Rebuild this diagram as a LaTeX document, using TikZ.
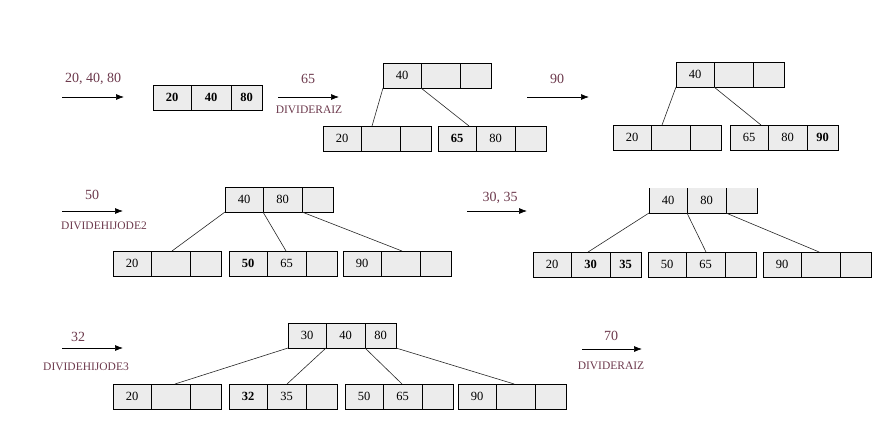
\documentclass[tikz,border=0pt]{standalone}
\usepackage{fontspec}
\setmainfont{Liberation Serif}
\usetikzlibrary{arrows.meta,calc}
\definecolor{lab}{HTML}{6D3A4D}
\definecolor{cellfill}{HTML}{ECECEC}
\tikzset{
  cell/.style={draw=black,fill=cellfill,line width=0.7pt,minimum height=25pt,inner sep=0pt,outer sep=0pt,font=\fontsize{12.5}{14}\selectfont},
  nofr/.style={cell,draw=none},
  toplab/.style={text=lab,font=\fontsize{14}{16}\selectfont,inner sep=0pt},
  botlab/.style={text=lab,font=\fontsize{11.5}{13}\selectfont,inner sep=0pt},
  steparrow/.style={-{Latex[length=8pt,width=6pt]},line width=0.7pt,black},
  link/.style={line width=0.6pt,black!85}
}
\newcommand\tnode[6][cell]{%
  \node[#1,minimum width=38pt,anchor=north west] (#2-1) at (#3) {#4};
  \node[#1,minimum width=39pt,anchor=west] (#2-2) at (#2-1.east) {#5};
  \node[#1,minimum width=31pt,anchor=west] (#2-3) at (#2-2.east) {#6};}
\newcommand\chpt[2]{($(#1-1.north west)!#2!(#1-3.north east)$)}
\begin{document}
\begin{tikzpicture}[x=1pt,y=-1pt]
\useasboundingbox (0,0) rectangle (886,434);
% ---------- row 1 ----------
\node[toplab] (l1) at (93,79) {20, 40, 80};
\coordinate (a1s) at (62,97); \coordinate (a1e) at (124,97);
\draw[steparrow] (a1s) -- (a1e);
\node[cell,minimum width=38pt,anchor=north west] (A-1) at (153,85) {\bfseries 20};
\node[cell,minimum width=40pt,anchor=west] (A-2) at (A-1.east) {\bfseries 40};
\node[cell,minimum width=31pt,anchor=west] (A-3) at (A-2.east) {\bfseries 80};

\node[toplab] (l2) at (308,79) {65};
\coordinate (a2s) at (278,97); \coordinate (a2e) at (339,97);
\draw[steparrow] (a2s) -- (a2e);
\node[botlab] (l2b) at (309,110) {DIVIDERAIZ};

\tnode{B}{383,63}{40}{}{}
\tnode{BL}{323,126}{20}{}{}
\tnode{BR}{438,126}{\bfseries 65}{80}{}
\draw[link] (B-1.south west) -- \chpt{BL}{0.454};
\draw[link] (B-2.south west) -- \chpt{BR}{0.287};

\node[toplab] (l3) at (557,79) {90};
\coordinate (a3s) at (527,97); \coordinate (a3e) at (589,97);
\draw[steparrow] (a3s) -- (a3e);

\tnode{C}{676,62}{40}{}{}
\tnode{CL}{613,125}{20}{}{}
\tnode{CR}{730,125}{65}{80}{\bfseries 90}
\draw[link] (C-1.south west) -- \chpt{CL}{0.454};
\draw[link] (C-2.south west) -- \chpt{CR}{0.287};

% ---------- row 2 ----------
\node[toplab] (l4) at (92,195) {50};
\coordinate (a4s) at (62,211); \coordinate (a4e) at (123,211);
\draw[steparrow] (a4s) -- (a4e);
\node[botlab] (l4b) at (104,226) {DIVIDEHIJODE2};

\tnode{D}{225,187}{40}{80}{}
\tnode{D1}{113,251}{20}{}{}
\tnode{D2}{229,251}{\bfseries 50}{65}{}
\tnode{D3}{343,251}{90}{}{}
\draw[link] (D-1.south west) -- \chpt{D1}{0.546};
\draw[link] (D-2.south west) -- \chpt{D2}{0.528};
\draw[link] (D-3.south west) -- \chpt{D3}{0.546};

\node[toplab] (l5) at (500,198) {30, 35};
\coordinate (a5s) at (467,211); \coordinate (a5e) at (527,211);
\draw[steparrow] (a5s) -- (a5e);

\tnode[nofr]{E}{649,188}{40}{80}{}
\draw[line width=0.7pt] (E-1.north west) -- (E-1.south west) -- (E-3.south east) -- (E-3.north east);
\draw[line width=0.7pt] (E-2.north west) -- (E-2.south west) (E-3.north west) -- (E-3.south west);
\tnode{E1}{533,252}{20}{\bfseries 30}{\bfseries 35}
\tnode{E2}{648,252}{50}{65}{}
\tnode{E3}{763,252}{90}{}{}
\draw[link] (E-1.south west) -- \chpt{E1}{0.51};
\draw[link] (E-2.south west) -- \chpt{E2}{0.537};
\draw[link] (E-3.south west) -- \chpt{E3}{0.52};

% ---------- row 3 ----------
\node[toplab] (l6) at (78,337) {32};
\coordinate (a6s) at (62,348); \coordinate (a6e) at (123,348);
\draw[steparrow] (a6s) -- (a6e);
\node[botlab] (l6b) at (86,367) {DIVIDEHIJODE3};

\tnode{F}{288,323}{30}{40}{80}
\tnode{F1}{113,384}{20}{}{}
\tnode{F2}{229,384}{\bfseries 32}{35}{}
\tnode{F3}{345,384}{50}{65}{}
\tnode{F4}{458,384}{90}{}{}
\draw[link] (F-1.south west) -- \chpt{F1}{0.574};
\draw[link] (F-2.south west) -- \chpt{F2}{0.537};
\draw[link] (F-3.south west) -- \chpt{F3}{0.528};
\draw[link] (F-3.south east) -- \chpt{F4}{0.52};

\node[toplab] (l7) at (611,336) {70};
\coordinate (a7s) at (582,349); \coordinate (a7e) at (642,349);
\draw[steparrow] (a7s) -- (a7e);
\node[botlab] (l7b) at (611,366) {DIVIDERAIZ};
\end{tikzpicture}
\end{document}
